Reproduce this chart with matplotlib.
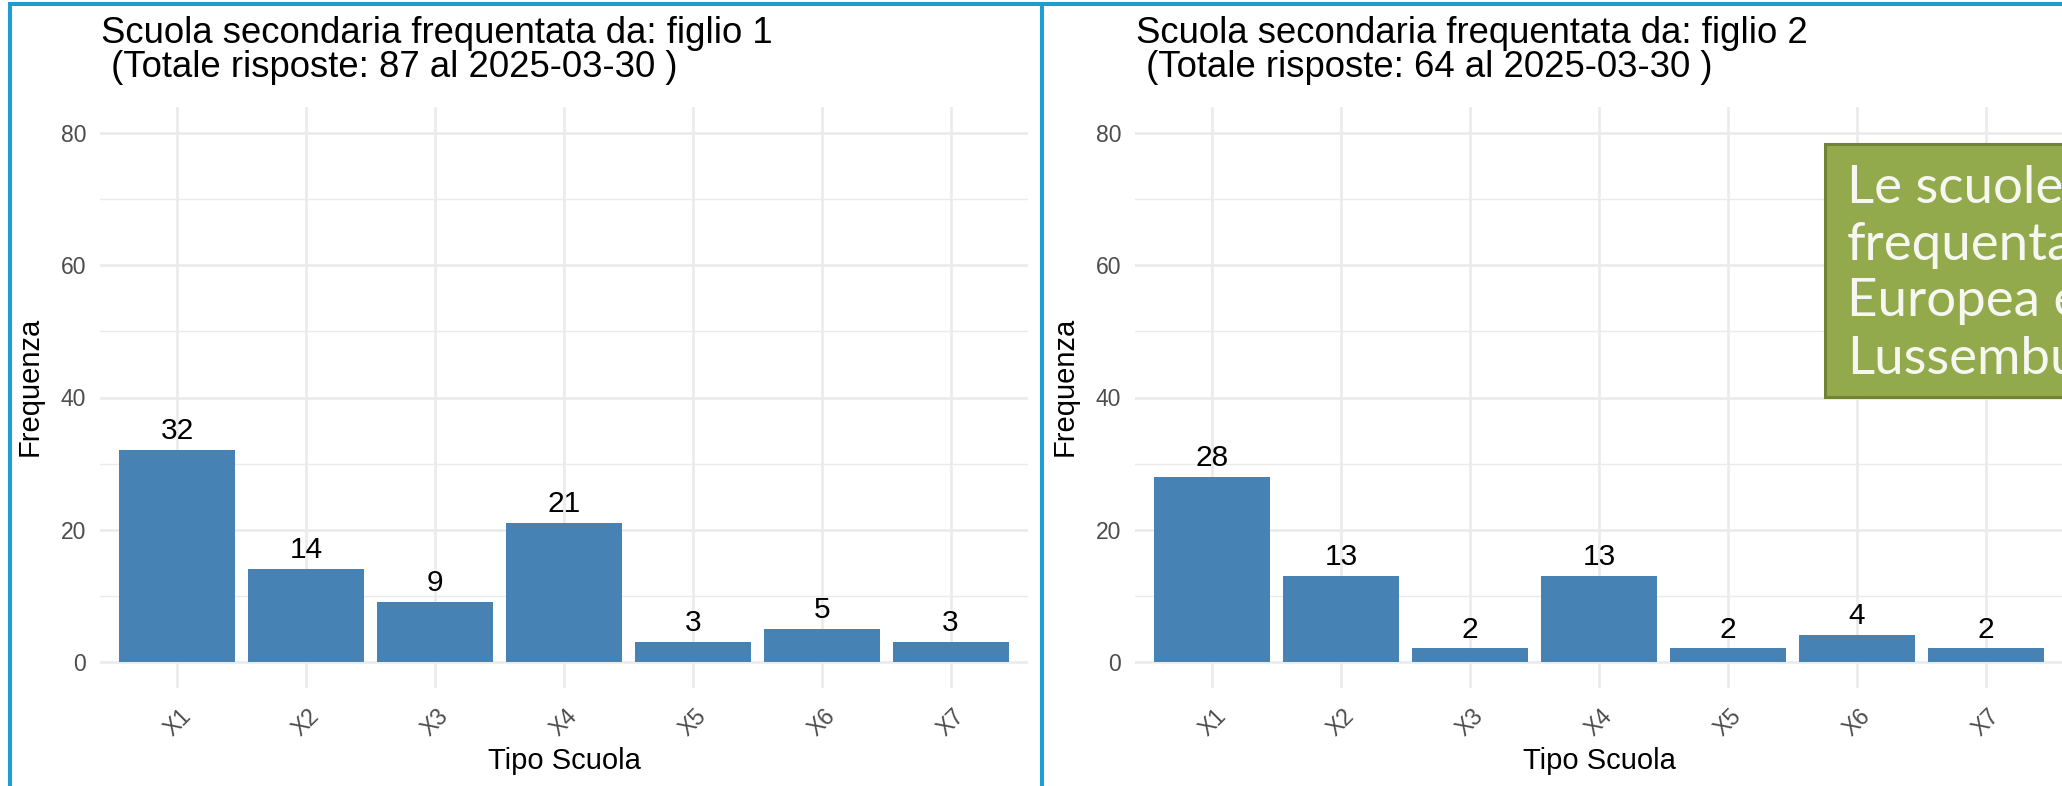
import matplotlib
matplotlib.use("Agg")
import matplotlib.pyplot as plt
from matplotlib.lines import Line2D
from matplotlib.patches import Rectangle
import numpy as np

W, H = 2062, 786

categories = ["X1", "X2", "X3", "X4", "X5", "X6", "X7"]
figlio1 = [32, 14, 9, 21, 3, 5, 3]
figlio2 = [28, 13, 2, 13, 2, 4, 2]
titles = ["Scuola secondaria frequentata da: figlio 1",
          "Scuola secondaria frequentata da: figlio 2"]
subtitles = [" (Totale risposte: 87 al 2025-03-30 )",
             " (Totale risposte: 64 al 2025-03-30 )"]
note_lines = ["Le scuole", "frequentate", "Europea e", "Lussemburgo"]

BAR = "#4682B4"
GRID = "#EBEBEB"
FRAME = "#1C9FD0"
FONT = "Liberation Sans"

plt.rcParams["font.family"] = FONT

fig = plt.figure(figsize=(W / 100, H / 100), dpi=100)
fig.patch.set_facecolor("white")


def fx(px):  # pixel x -> figure fraction
    return px / W


def fy(py):  # pixel y (from top) -> figure fraction
    return 1 - py / H


def panel(left, right, vals, title, subtitle):
    ax = fig.add_axes([fx(left), fy(688), fx(right - left), fy(107) - fy(688)])
    x = np.arange(len(categories))
    ax.bar(x, vals, width=0.9, color=BAR, zorder=2)
    for xi, v in zip(x, vals):
        ax.annotate(str(v), (xi, v), xytext=(0, 3.5), textcoords="offset points",
                    ha="center", va="bottom", fontsize=21.5, color="black")
    ax.set_xlim(-0.6, len(categories) - 0.4)
    ax.set_ylim(-4, 84)
    ax.set_xticks(x)
    ax.set_xticklabels(categories, rotation=45, ha="center", va="top")
    ax.set_yticks([0, 20, 40, 60, 80])
    ax.set_yticks([10, 30, 50, 70], minor=True)
    ax.tick_params(axis="both", which="both", length=0, colors="#4D4D4D", labelsize=16.5)
    ax.tick_params(axis="x", pad=12)
    ax.tick_params(axis="y", pad=10)
    ax.grid(True, which="major", color=GRID, lw=1.9)
    ax.grid(True, which="minor", axis="y", color=GRID, lw=1.0)
    ax.set_axisbelow(True)
    for s in ax.spines.values():
        s.set_visible(False)
    ax.set_xlabel("Tipo Scuola", fontsize=21)
    ax.xaxis.label.set_va("baseline")
    ax.xaxis.set_label_coords(0.5, (688 - 769) / 581)
    ax.set_ylabel("Frequenza", fontsize=21, va="center")
    ax.yaxis.set_label_coords(-70 / 928, (688 - 386) / 581)
    fig.text(fx(left + 1), fy(43), title, fontsize=26.3, va="baseline", ha="left")
    fig.text(fx(left + 1), fy(77), subtitle, fontsize=26.3, va="baseline", ha="left")
    return ax


panel(100, 1028, figlio1, titles[0], subtitles[0])
panel(1135, 2063, figlio2, titles[1], subtitles[1])

# frames around the two pictures
for xs, ys in [([8, W], [4, 4]), ([10, 10], [4, H]), ([1042, 1042], [4, H])]:
    fig.add_artist(Line2D([fx(v) for v in xs], [fy(v) for v in ys],
                          color=FRAME, lw=2.9, solid_capstyle="butt"))

# green note box (cut by the right edge)
box = Rectangle((fx(1825), fy(397)), fx(2100 - 1825), fy(144) - fy(397),
                transform=fig.transFigure, facecolor="#93AA4C",
                edgecolor="#6F8536", lw=2.2, zorder=5)
fig.add_artist(box)
for i, line in enumerate(note_lines):
    t = fig.text(fx(1847), fy(203 + i * 56.7), line, fontsize=38,
                 family="Lato", color="#F7F7F2",
                 va="baseline", ha="left", zorder=6)
    t.set_clip_path(box)

fig.savefig("out.png", dpi=100, facecolor="white")
